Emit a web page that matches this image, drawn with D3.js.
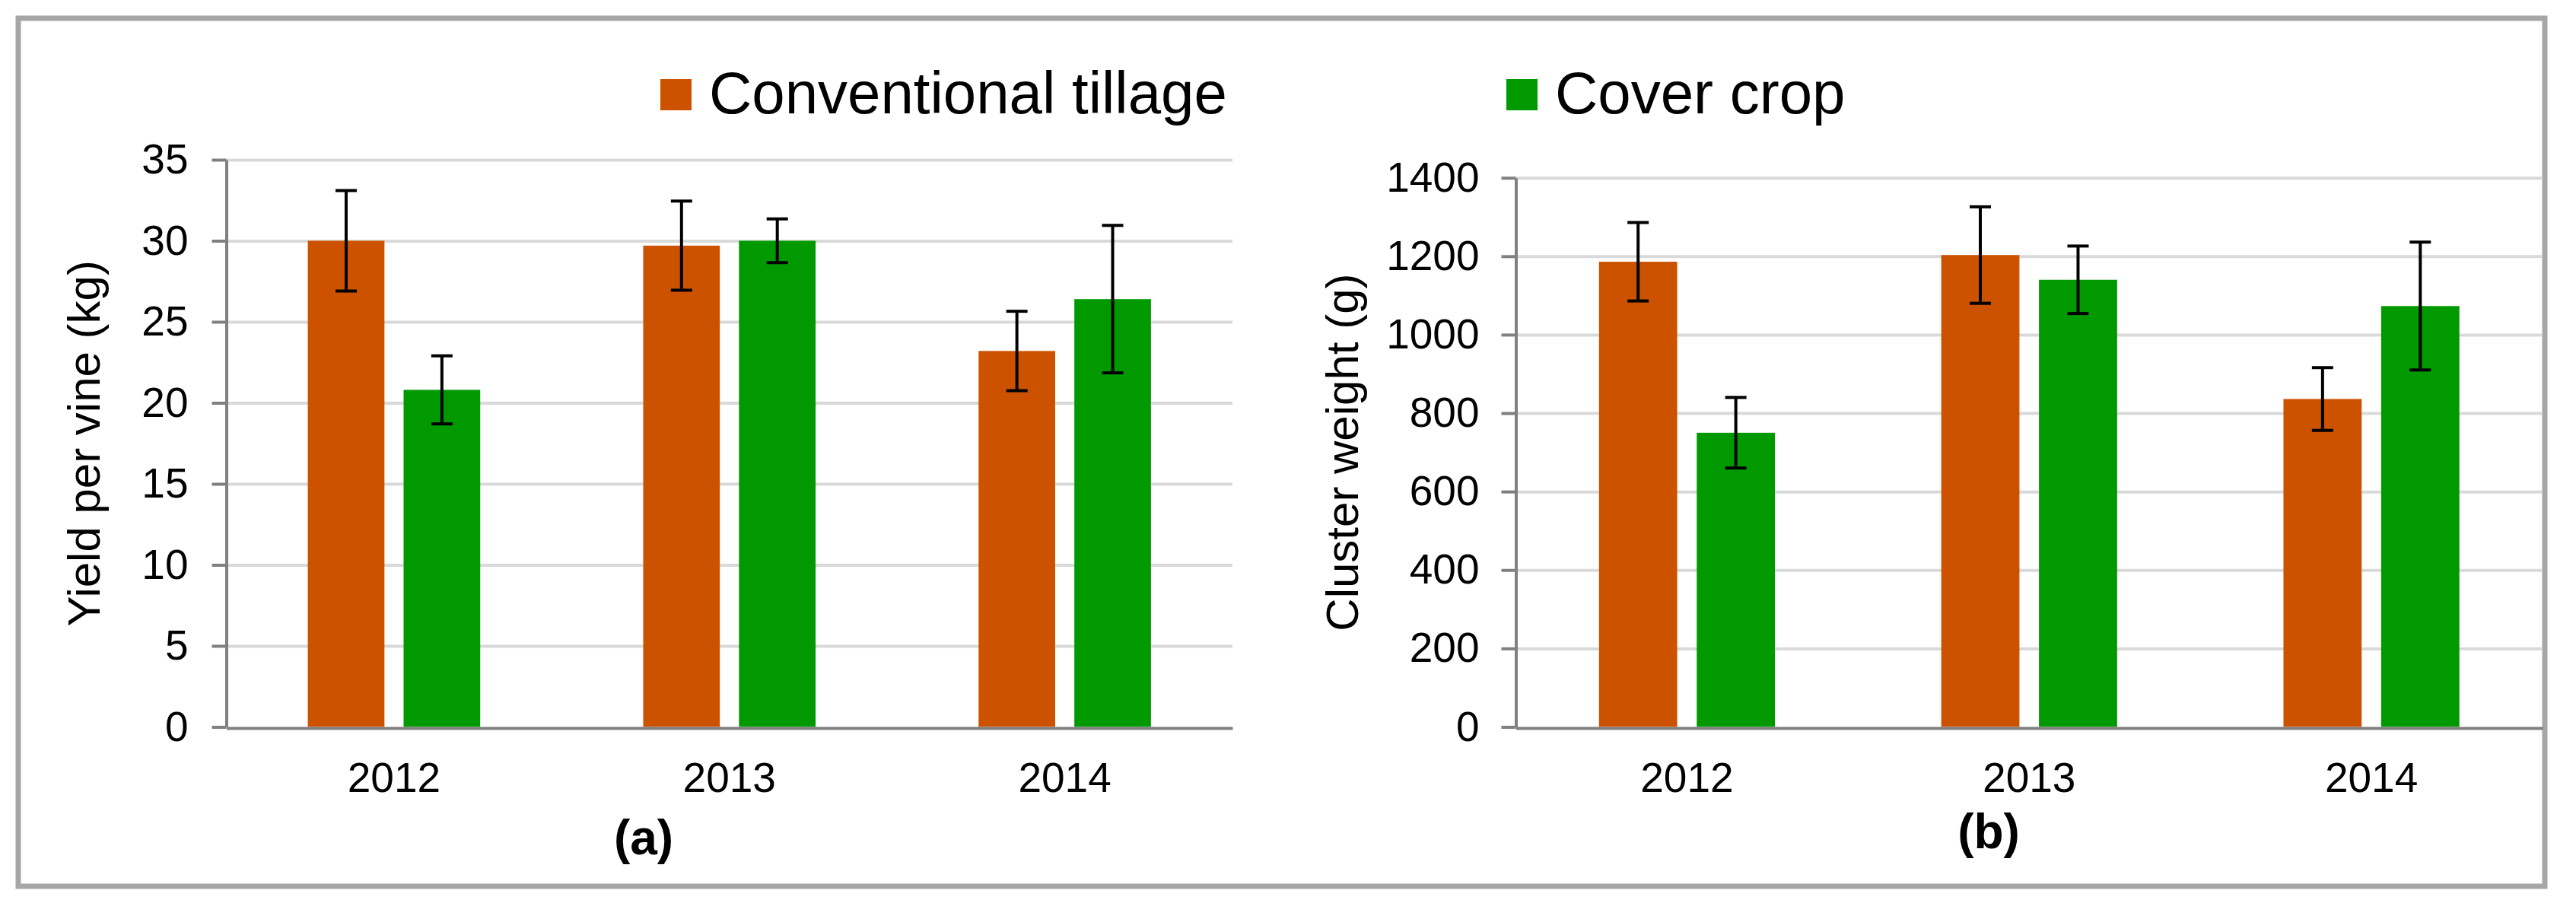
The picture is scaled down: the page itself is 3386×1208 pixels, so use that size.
<!DOCTYPE html>
<html>
<head>
<meta charset="utf-8">
<script src="https://cdn.jsdelivr.net/npm/d3@7"></script>
<style>
   body { margin: 0; background: #fff; }
   text { font-family: 'Liberation Sans', Arial, sans-serif; fill: #000; }
</style>
</head>
<body>
<script>
   // data
   let years = ['2012', '2013', '2014'];
   let seriesNames = ['Conventional tillage', 'Cover crop'];
   let seriesColors = ['#cd5200', '#009a00'];

   // (a) yield per vine, kg
   let yieldConv = [30.0, 29.7, 23.2];
   let yieldConvErr = [3.1, 2.75, 2.45];
   let yieldCover = [20.8, 30.0, 26.4];
   let yieldCoverErr = [2.1, 1.35, 4.55];
   let yieldTicks = [0, 5, 10, 15, 20, 25, 30, 35];

   // (b) cluster weight, g
   let clusterConv = [1186, 1203, 836];
   let clusterConvErr = [100, 123, 80];
   let clusterCover = [750, 1140, 1073];
   let clusterCoverErr = [90, 86, 163];
   let clusterTicks = [0, 200, 400, 600, 800, 1000, 1200, 1400];

   // canvas
   let width = 3386;
   let height = 1208;
   let svg = d3.select('body').append('svg')
      .attr('width', width)
      .attr('height', height);

   // outer frame
   svg.append('rect')
      .attr('x', 24)
      .attr('y', 24)
      .attr('width', 3321)
      .attr('height', 1141)
      .attr('fill', 'none')
      .attr('stroke', '#a6a6a6')
      .attr('stroke-width', 7);

   let drawPanel = (p) => {
      let xScale = d3.scaleBand()
         .domain(years)
         .range([p.left, p.right]);
      let bw = xScale.bandwidth();
      let subScale = d3.scaleBand()
         .domain([0, 1])
         .range([bw * 0.243, bw * 0.757])
         .paddingInner(0.2);
      let yScale = d3.scaleLinear()
         .domain([0, d3.max(p.ticks)])
         .range([p.bottom, p.top]);

      // gridlines
      let grid = svg.append('g')
         .attr('transform', 'translate(' + p.left + ', 0)')
         .call(d3.axisLeft(yScale).tickValues(p.ticks.slice(1)).tickSize(-(p.right - p.left)).tickFormat(''));
      grid.select('.domain').remove();
      grid.selectAll('line').attr('stroke', '#d9d9d9').attr('stroke-width', 4);

      // bars
      let series = [
         { vals: p.conv, errs: p.convErr },
         { vals: p.cover, errs: p.coverErr }
      ];
      series.forEach((s, si) => {
         svg.append('g').selectAll('rect')
            .data(years)
            .enter()
            .append('rect')
            .attr('x', (d) => xScale(d) + subScale(si))
            .attr('width', subScale.bandwidth())
            .attr('y', (d, i) => yScale(s.vals[i]))
            .attr('height', (d, i) => p.bottom - yScale(s.vals[i]))
            .attr('fill', seriesColors[si]);
      });

      // error bars
      series.forEach((s, si) => {
         let g = svg.append('g').attr('stroke', '#000').attr('stroke-width', 4);
         years.forEach((d, i) => {
            let cx = xScale(d) + subScale(si) + subScale.bandwidth() / 2;
            let hi = yScale(s.vals[i] + s.errs[i]);
            let lo = yScale(s.vals[i] - s.errs[i]);
            g.append('line').attr('x1', cx).attr('x2', cx).attr('y1', hi).attr('y2', lo);
            g.append('line').attr('x1', cx - 14).attr('x2', cx + 14).attr('y1', hi).attr('y2', hi);
            g.append('line').attr('x1', cx - 14).attr('x2', cx + 14).attr('y1', lo).attr('y2', lo);
         });
      });

      // y axis
      let yAxis = svg.append('g')
         .attr('transform', 'translate(' + p.left + ', 0)')
         .call(d3.axisLeft(yScale).tickValues(p.ticks).tickFormat(d3.format('d')).tickSize(19).tickPadding(p.tickPad).tickSizeOuter(0));
      yAxis.select('.domain').attr('stroke', '#808080').attr('stroke-width', 4);
      yAxis.selectAll('line').attr('stroke', '#808080').attr('stroke-width', 4);
      yAxis.selectAll('text').style('font-size', '55px').attr('fill', '#000');

      // x axis
      let xAxis = svg.append('g')
         .attr('transform', 'translate(0, ' + (p.bottom + 1.5) + ')')
         .call(d3.axisBottom(xScale).tickSize(0).tickPadding(45).tickSizeOuter(0));
      xAxis.select('.domain').attr('stroke', '#808080').attr('stroke-width', 4);
      xAxis.selectAll('text').style('font-size', '55px').attr('fill', '#000');

      // axis title
      svg.append('text')
         .attr('transform', 'translate(' + p.titleX + ',' + ((p.top + p.bottom) / 2) + ') rotate(-90)')
         .attr('text-anchor', 'middle')
         .style('font-size', '60px')
         .text(p.title);

      // panel caption
      svg.append('text')
         .attr('x', p.capX)
         .attr('y', p.capY)
         .attr('text-anchor', 'middle')
         .style('font-size', '64px')
         .style('font-weight', 'bold')
         .text(p.caption);

      // legend entry
      svg.append('rect')
         .attr('x', p.legX)
         .attr('y', 104)
         .attr('width', 41)
         .attr('height', 41)
         .attr('fill', seriesColors[p.legIndex]);
      svg.append('text')
         .attr('x', p.legX + 64)
         .attr('y', 149)
         .style('font-size', '78px')
         .text(seriesNames[p.legIndex]);
   }

   drawPanel({
      left: 297.5, right: 1620, top: 210, bottom: 955.5,
      ticks: yieldTicks, conv: yieldConv, convErr: yieldConvErr,
      cover: yieldCover, coverErr: yieldCoverErr, tickPad: 31,
      title: 'Yield per vine (kg)', titleX: 131,
      caption: '(a)', capX: 846, capY: 1123,
      legX: 868, legIndex: 0
   });

   drawPanel({
      left: 1992.5, right: 3342, top: 233.7, bottom: 955.5,
      ticks: clusterTicks, conv: clusterConv, convErr: clusterConvErr,
      cover: clusterCover, coverErr: clusterCoverErr, tickPad: 29,
      title: 'Cluster weight (g)', titleX: 1785,
      caption: '(b)', capX: 2614, capY: 1115,
      legX: 1980, legIndex: 1
   });
</script>
</body>
</html>
